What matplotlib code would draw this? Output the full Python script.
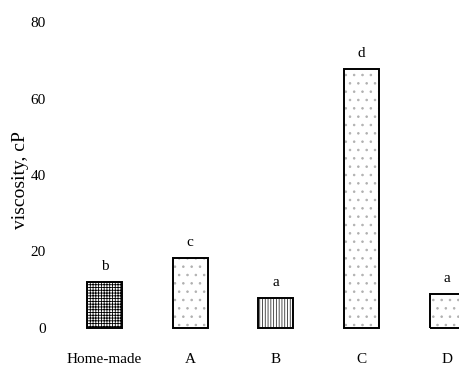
import matplotlib
matplotlib.use("Agg")
import matplotlib.pyplot as plt

categories = ["Home-made", "A", "B", "C", "D"]
viscosity = [12.0, 18.2, 7.8, 67.6, 8.8]
letters = ["b", "c", "a", "d", "a"]
yticks = [0, 20, 40, 60, 80]
hatches = ["++++++", "..", "||||||", "..", ".."]
hatch_colors = ["black", "#b0b0b0", "#333333", "#b0b0b0", "#b0b0b0"]

plt.rcParams["font.family"] = ["Liberation Serif", "DejaVu Serif"]
plt.rcParams["hatch.linewidth"] = 0.6

fig = plt.figure(figsize=(4.6, 3.69), dpi=100)
ax = fig.add_axes([60 / 460, 1 - 328 / 369, 400 / 460, 306 / 369])

x = list(range(len(categories)))
# hatch layer
fills = ax.bar(x, viscosity, width=0.41, facecolor="white", linewidth=0,
               clip_on=False)
for b, h, c in zip(fills, hatches, hatch_colors):
    b.set_hatch(h)
    b.set_edgecolor(c)
# outline layer
ax.bar(x, viscosity, width=0.41, facecolor="none", edgecolor="black",
       linewidth=1.4, clip_on=False)

for xi, v, lab in zip(x, viscosity, letters):
    ax.text(xi, v + 3.2, lab, ha="center", va="baseline", fontsize=11)

ax.set_xlim(-0.52, 4.15)
ax.set_ylim(0, 80)
ax.set_yticks(yticks)
ax.set_yticklabels([str(t) for t in yticks], fontsize=11)
ax.set_xticks(x)
ax.set_xticklabels(categories, fontsize=11)
ax.tick_params(axis="both", length=0)
ax.tick_params(axis="y", pad=10)
ax.tick_params(axis="x", pad=18)
for s in ax.spines.values():
    s.set_visible(False)
ax.set_ylabel("viscosity, cP", fontsize=14)
ax.yaxis.set_label_coords(-0.077, 0.484)

fig.savefig("out.png", dpi=100)
